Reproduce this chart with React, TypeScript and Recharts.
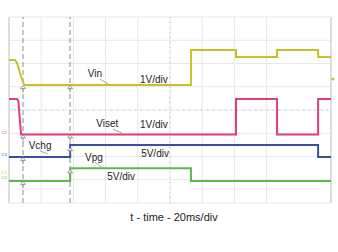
import {
  CartesianGrid,
  Line,
  LineChart,
  ReferenceDot,
  ReferenceLine,
  XAxis,
  YAxis,
} from "recharts";

// time in ms (20 ms/div, 10 div), level in screen divisions (8 div)
const vinTime = [0, 3.7, 5, 6.8, 8.7, 9.5, 113, 113, 141, 141, 166.5, 166.5, 192, 192, 200];
const vinLevel = [6.15, 6.15, 6.02, 5.59, 5.2, 5.08, 5.08, 6.58, 6.58, 6.28, 6.28, 6.58, 6.58, 6.28, 6.28];

const visetTime = [0, 5, 5.8, 7.5, 141, 141, 166.5, 166.5, 192, 192, 200];
const visetLevel = [4.47, 4.47, 4.4, 2.95, 2.95, 4.47, 4.47, 2.95, 2.95, 4.47, 4.47];

const vchgTime = [0, 38, 38, 192, 192, 200];
const vchgLevel = [1.98, 1.98, 2.49, 2.49, 1.98, 1.98];

const vpgTime = [0, 38, 38, 113, 113, 200];
const vpgLevel = [0.95, 0.95, 1.5, 1.5, 0.95, 0.95];

const timeTicks = [0, 20, 40, 60, 80, 100, 120, 140, 160, 180, 200];
const divTicks = [0, 1, 2, 3, 4, 5, 6, 7, 8];
const cursorTimes = [8.7, 37.9];

const YELLOW = "#c8c02a";
const PINK = "#e23d7b";
const BLUE = "#3a4ea2";
const GREEN = "#5cb84a";
const FONT = "'Liberation Sans', Arial, sans-serif";

const toPoints = (t: number[], v: number[]) => t.map((x, i) => ({ t: x, v: v[i] }));

const labels = [
  { t: 53.4, v: 5.59, text: "Vin" },
  { t: 90, v: 5.33, text: "1V/div" },
  { t: 61, v: 3.42, text: "Viset" },
  { t: 90, v: 3.37, text: "1V/div" },
  { t: 19.3, v: 2.49, text: "Vchg" },
  { t: 90.7, v: 2.11, text: "5V/div" },
  { t: 52.8, v: 1.98, text: "Vpg" },
  { t: 69.6, v: 1.16, text: "5V/div" },
];

const leaders = [
  [56.5, 5.33, 61.5, 5.12],
  [64.6, 3.18, 70.2, 3.01],
  [19.3, 2.24, 24.2, 2.11],
  [53.4, 1.76, 57.1, 1.55],
];

const channelTags = [
  { v: 3.03, text: "C2", color: PINK },
  { v: 2.08, text: "C3", color: BLUE },
  { v: 1.3, text: "C1", color: YELLOW },
  { v: 1.08, text: "C4", color: GREEN },
];

const markerLevels = [
  [8.7, 4.92],
  [8.7, 2.8],
  [8.7, 1.83],
  [8.7, 0.8],
  [37.9, 4.92],
  [37.9, 2.8],
  [37.9, 2.25],
  [37.9, 1.3],
];

function TriggerMark(props: any) {
  const { cx, cy } = props;
  if (cx == null || cy == null) return null;
  return (
    <g stroke="#8a8a8a" fill="#fff" strokeWidth={0.8}>
      <path d={`M${cx - 2.5},${cy} L${cx},${cy - 3} L${cx + 2.5},${cy} Z`} />
      <line x1={cx} y1={cy} x2={cx} y2={cy + 4} />
    </g>
  );
}

export default function App() {
  return (
    <div style={{ position: "absolute", left: 0, top: 0, width: 338, height: 252, background: "#fff" }}>
      <LineChart
        width={338}
        height={252}
        margin={{ top: 17, right: 7, bottom: 49, left: 9 }}
        style={{ fontFamily: FONT }}
      >
        <XAxis dataKey="t" type="number" domain={[0, 200]} ticks={timeTicks} hide allowDataOverflow />
        <YAxis type="number" domain={[0, 8]} ticks={divTicks} hide allowDataOverflow />
        <CartesianGrid stroke="#e8e8e8" strokeWidth={1} />
        <ReferenceLine y={4} stroke="#bdbdbd" strokeDasharray="1 5" />
        <ReferenceLine x={100} stroke="#bdbdbd" strokeDasharray="1 4" />
        <ReferenceLine x={0} stroke="#c8c8c8" />
        <ReferenceLine x={200} stroke="#c8c8c8" />
        {cursorTimes.map((t) => (
          <ReferenceLine key={t} x={t} stroke="#8c8c8c" strokeDasharray="5 3" strokeWidth={1} />
        ))}
        <Line data={toPoints(vinTime, vinLevel)} dataKey="v" type="linear" stroke={YELLOW} strokeWidth={2} dot={false} isAnimationActive={false} />
        <Line data={toPoints(visetTime, visetLevel)} dataKey="v" type="linear" stroke={PINK} strokeWidth={2} dot={false} isAnimationActive={false} />
        <Line data={toPoints(vchgTime, vchgLevel)} dataKey="v" type="linear" stroke={BLUE} strokeWidth={2} dot={false} isAnimationActive={false} />
        <Line data={toPoints(vpgTime, vpgLevel)} dataKey="v" type="linear" stroke={GREEN} strokeWidth={2} dot={false} isAnimationActive={false} />
        {markerLevels.map(([t, v], i) => (
          <ReferenceDot key={`m${i}`} x={t} y={v} r={2} shape={<TriggerMark />} ifOverflow="visible" />
        ))}
        {leaders.map(([t1, v1, t2, v2], i) => (
          <ReferenceLine
            key={`l${i}`}
            segment={[{ x: t1, y: v1 }, { x: t2, y: v2 }]}
            stroke="#666"
            strokeWidth={0.6}
            ifOverflow="visible"
          />
        ))}
        {labels.map((l, i) => (
          <ReferenceDot
            key={`t${i}`}
            x={l.t}
            y={l.v}
            r={0}
            fill="none"
            stroke="none"
            ifOverflow="visible"
            label={{ value: l.text, position: "center", fontSize: 10, fill: "#222", fontFamily: FONT }}
          />
        ))}
        {channelTags.map((c, i) => (
          <ReferenceDot
            key={`c${i}`}
            x={-3}
            y={c.v}
            r={0}
            fill="none"
            stroke="none"
            ifOverflow="visible"
            label={{ value: c.text, position: "center", fontSize: 4, fill: c.color, fontFamily: FONT }}
          />
        ))}
        <ReferenceDot x={201.2} y={5.33} r={1.5} fill={YELLOW} stroke="none" ifOverflow="visible" />
      </LineChart>
      <div
        style={{
          position: "absolute",
          left: 0,
          width: 348,
          top: 211,
          textAlign: "center",
          fontFamily: FONT,
          fontSize: 11,
          color: "#222",
        }}
      >
        t - time - 20ms/div
      </div>
    </div>
  );
}
